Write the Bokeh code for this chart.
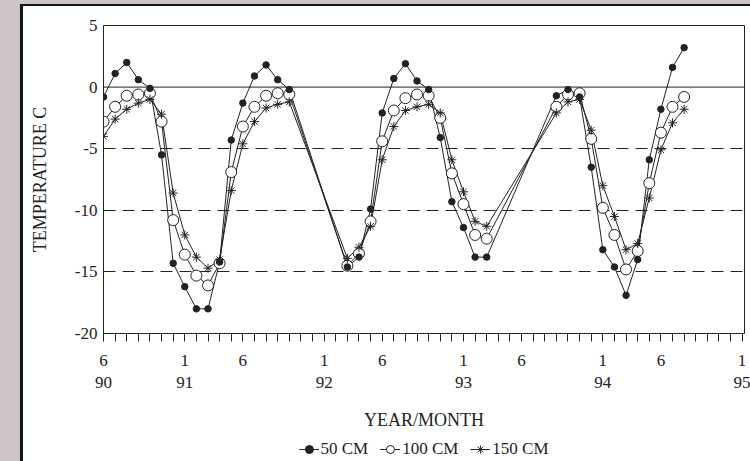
from bokeh.plotting import figure
from bokeh.layouts import column
from bokeh.models import Range1d, FixedTicker, Span, Legend, LegendItem, GlobalInlineStyleSheet
from bokeh.embed import file_html
from bokeh.resources import INLINE

# month index: 0 = June 1990 ... 55 = January 1995
months = list(range(0, 17)) + list(range(21, 34)) + list(range(39, 51))

t50 = [-0.8, 1.1, 2.0, 0.6, -0.1, -5.5, -14.3, -16.2, -18.0, -18.0, -14.2, -4.3, -1.3, 0.9, 1.8, 0.6, -0.2,
       -14.6, -13.8, -9.9, -2.1, 0.7, 1.9, 0.5, -0.2, -4.1, -9.3, -11.4, -13.8, -13.8,
       -0.7, -0.2, -0.8, -6.5, -13.2, -14.6, -16.9, -14.0, -5.9, -1.8, 1.6, 3.2]
t100 = [-2.8, -1.6, -0.7, -0.6, -0.5, -2.8, -10.8, -13.6, -15.3, -16.1, -14.3, -6.9, -3.2, -1.6, -0.7, -0.5, -0.6,
        -14.5, -13.5, -10.9, -4.4, -1.9, -0.9, -0.6, -0.7, -2.5, -7.0, -9.5, -12.0, -12.3,
        -1.6, -0.6, -0.5, -4.2, -9.8, -12.0, -14.8, -13.3, -7.8, -3.7, -1.6, -0.8]
t150 = [-4.0, -2.6, -1.8, -1.3, -1.0, -2.2, -8.6, -12.0, -13.8, -14.7, -14.0, -8.4, -4.6, -2.8, -1.7, -1.4, -1.2,
        -13.9, -13.0, -11.3, -5.9, -3.2, -1.9, -1.6, -1.4, -2.1, -5.9, -8.5, -10.9, -11.3,
        -2.1, -1.2, -1.0, -3.5, -8.0, -10.5, -13.2, -12.7, -9.0, -5.1, -2.9, -1.8]

series_labels = ["50 CM", "100 CM", "150 CM"]

x_tick_months = list(range(0, 56))
x_label_months = [0, 7, 12, 19, 24, 31, 36, 43, 48, 55]
x_labels = ["6\n90", "1\n91", "6", "1\n92", "6", "1\n93", "6", "1\n94", "6", "1\n95"]
y_ticks = [5, 0, -5, -10, -15, -20]
y_labels = ["5", "0", "-5", "-10", "-15", "-20"]
dash_levels = [-5, -10, -15]
solid_level = 0

FONT = "Liberation Serif"
INK = "#222222"

p = figure(width=727, height=431, x_range=Range1d(0, 55.2), y_range=Range1d(-20, 5),
           output_backend="svg", toolbar_location=None,
           min_border_left=80, min_border_right=6, min_border_top=19, min_border_bottom=104,
           background_fill_color="white", border_fill_color="white")

p.outline_line_color = INK
p.outline_line_width = 1

# grid
p.xgrid.visible = False
p.ygrid.ticker = FixedTicker(ticks=dash_levels)
p.ygrid.grid_line_color = INK
p.ygrid.grid_line_dash = "12 7"
p.ygrid.grid_line_width = 1
p.add_layout(Span(location=solid_level, dimension="width", line_color=INK, line_width=1))

# x axis
xa = p.xaxis[0]
xa.ticker = FixedTicker(ticks=x_tick_months)
overrides = {m: "" for m in x_tick_months}
for m, lab in zip(x_label_months, x_labels):
    overrides[m] = lab
xa.major_label_overrides = overrides
xa.minor_tick_line_color = None
xa.major_tick_out = 8
xa.major_tick_in = 0
xa.major_tick_line_color = INK
xa.axis_line_color = INK
xa.major_label_text_font = FONT
xa.major_label_text_font_size = "17px"
xa.major_label_text_color = INK
xa.major_label_standoff = 9
xa.axis_label = "YEAR/MONTH"
xa.axis_label_standoff = 15
xa.axis_label_text_font = FONT
xa.axis_label_text_font_size = "18px"
xa.axis_label_text_font_style = "normal"
xa.axis_label_text_color = INK

# y axis
ya = p.yaxis[0]
ya.ticker = FixedTicker(ticks=y_ticks)
ya.major_label_overrides = {t: lab for t, lab in zip(y_ticks, y_labels)}
ya.minor_tick_line_color = None
ya.major_tick_out = 0
ya.major_tick_in = 0
ya.axis_line_color = INK
ya.major_label_text_font = FONT
ya.major_label_text_font_size = "17px"
ya.major_label_text_color = INK
ya.major_label_standoff = 6
ya.axis_label = "TEMPERATURE C"
ya.axis_label_standoff = 22
ya.axis_label_text_font = FONT
ya.axis_label_text_font_size = "18px"
ya.axis_label_text_font_style = "normal"
ya.axis_label_text_color = INK

# series
line_style = dict(line_color=INK, line_width=1)
marker_styles = [dict(marker="circle", size=6.5, fill_color=INK, line_color=INK),
                 dict(marker="circle", size=11, fill_color="white", line_color=INK, line_width=1),
                 dict(marker="asterisk", size=9, line_color=INK, line_width=1)]

p.line(months, t50, **line_style)
p.line(months, t100, **line_style)
p.line(months, t150, **line_style)
p.scatter(months, t100, **marker_styles[1])
p.scatter(months, t150, **marker_styles[2])
p.scatter(months, t50, **marker_styles[0])

# legend strip below the chart (key only: renderers hold a single NaN so nothing is plotted)
lg = figure(width=727, height=24, x_range=Range1d(0, 1), y_range=Range1d(0, 1),
            output_backend="svg", toolbar_location=None,
            min_border_left=80, min_border_right=6, min_border_top=0, min_border_bottom=0,
            background_fill_color="white", border_fill_color="white")
lg.axis.visible = False
lg.grid.visible = False
lg.outline_line_color = None
nan = float("nan")
items = []
for lab, ms in zip(series_labels, marker_styles):
    rl = lg.line([nan, nan], [nan, nan], **line_style)
    rm = lg.scatter([nan], [nan], **ms)
    items.append(LegendItem(label=lab, renderers=[rl, rm]))
legend = Legend(items=items, orientation="horizontal", location="center",
                label_text_font=FONT, label_text_font_size="17px", label_text_color=INK,
                glyph_width=20, glyph_height=20, label_standoff=2, spacing=12,
                padding=0, margin=0, background_fill_alpha=0, border_line_alpha=0)
lg.add_layout(legend)

layout = column(p, lg, spacing=0)
layout.styles = {"margin-left": "20px", "margin-top": "4px",
                 "border-left": "3px solid #151515", "border-top": "2px solid #151515",
                 "background-color": "white"}
layout.stylesheets = [GlobalInlineStyleSheet(
    css="html, body { margin: 0; padding: 0; background-color: #cdc4c6; overflow: hidden; }")]

open("out.html", "w").write(file_html(layout, INLINE))
